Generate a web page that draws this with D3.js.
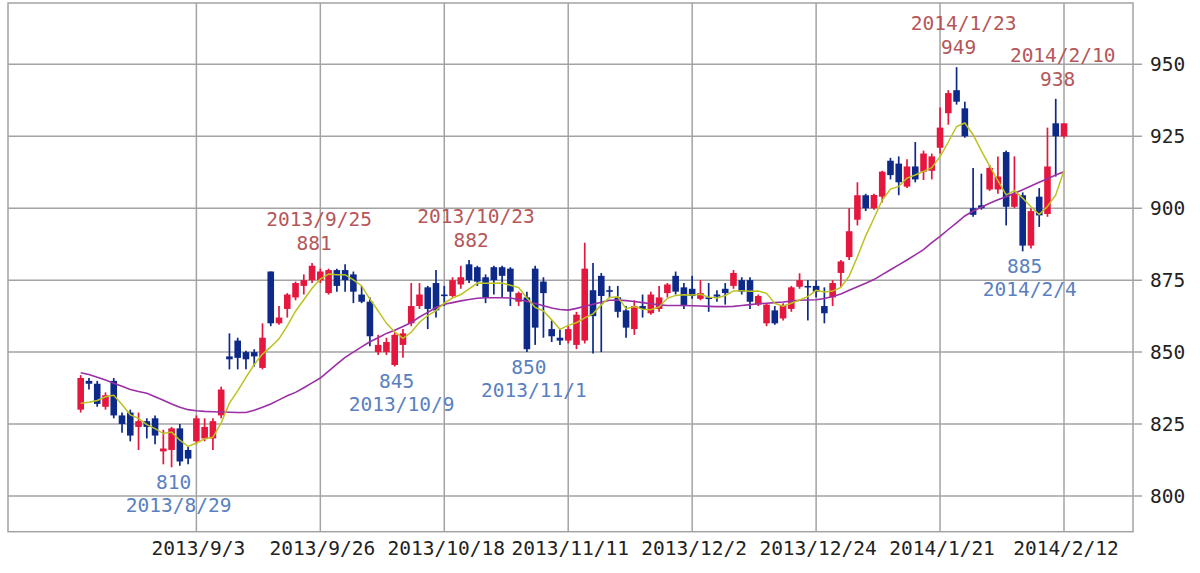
<!DOCTYPE html>
<html><head><meta charset="utf-8">
<script src="https://cdn.jsdelivr.net/npm/d3@7/dist/d3.min.js"></script>
<style>body{margin:0;background:#fff;overflow:hidden}</style>
</head><body>
<svg id="c" width="1200" height="573"></svg>
<script>
const dates = ["2013/8/14","2013/8/15","2013/8/16","2013/8/19","2013/8/20","2013/8/21","2013/8/22","2013/8/23","2013/8/26","2013/8/27","2013/8/28","2013/8/29","2013/8/30","2013/9/2","2013/9/3","2013/9/4","2013/9/5","2013/9/6","2013/9/9","2013/9/10","2013/9/11","2013/9/12","2013/9/13","2013/9/17","2013/9/18","2013/9/19","2013/9/20","2013/9/24","2013/9/25","2013/9/26","2013/9/27","2013/9/30","2013/10/1","2013/10/2","2013/10/3","2013/10/4","2013/10/7","2013/10/8","2013/10/9","2013/10/10","2013/10/11","2013/10/15","2013/10/16","2013/10/17","2013/10/18","2013/10/21","2013/10/22","2013/10/23","2013/10/24","2013/10/25","2013/10/28","2013/10/29","2013/10/30","2013/10/31","2013/11/1","2013/11/5","2013/11/6","2013/11/7","2013/11/8","2013/11/11","2013/11/12","2013/11/13","2013/11/14","2013/11/15","2013/11/18","2013/11/19","2013/11/20","2013/11/21","2013/11/22","2013/11/25","2013/11/26","2013/11/27","2013/11/28","2013/11/29","2013/12/2","2013/12/3","2013/12/4","2013/12/5","2013/12/6","2013/12/9","2013/12/10","2013/12/11","2013/12/12","2013/12/13","2013/12/16","2013/12/17","2013/12/18","2013/12/19","2013/12/20","2013/12/24","2013/12/25","2013/12/26","2013/12/27","2013/12/30","2014/1/6","2014/1/7","2014/1/8","2014/1/9","2014/1/10","2014/1/14","2014/1/15","2014/1/16","2014/1/17","2014/1/20","2014/1/21","2014/1/22","2014/1/23","2014/1/24","2014/1/27","2014/1/28","2014/1/29","2014/1/30","2014/1/31","2014/2/3","2014/2/4","2014/2/5","2014/2/6","2014/2/7","2014/2/10","2014/2/12"];

const opens = [830,840,839,831,840,828,829,824,826,827,815.5,816,823.5,816,819,820,820,828,848.5,854,850,850,844.5,878,860,865,869,873,875,875,870.5,878.5,878.5,877,870,867.5,850,850,845.5,852.5,860,866,872.5,874,870,869.5,873.5,880.5,879.5,876,879.5,879.5,879,867.5,869,879,874.5,858,855,854,852.5,854,871.5,876.5,871.5,869,864.5,858,866,863.5,865,870.5,876.5,872.5,872,868.5,869,870,872,873,875,875,866.5,860,864.5,861.7,865,872.7,873,873,866,869,877.5,883,896,904.5,900,904,916.5,915.5,907.5,914.5,912.7,913,921,933,941,934.7,900,901,906.5,906.5,919.5,900.5,904.5,887,904,898,929.5,925];
const highs = [842,841,840,836,841,829,830,829,827,828,823,824,825,817,828,827,827,838,856.5,855,850.5,851,860,878,866,870.5,874.5,877,881,879,879,879,880.5,878,873,869,856,855,857,858,874,874,873,878.5,873,876,880,882,880,877,880,880,879.5,871,871,880,876,861,858,859,864,888,881,877.5,873,873,866,868,870,871,873,874,878,874,876.5,875,874,871.5,874,878.5,876,876,870,867,866,867,873,877.4,875,875,872.5,875,882,900,909,905,905,913,917.5,918,917,923,920,919,935,941,949,937,914,912,915,918,920,918,905.5,900,907,928,938,929.5];
const lows = [829,837,831,830,827,822,819,816,820,818,811,810,810.5,811,818,819,816,827,844,844,844,845,844,859,859.5,862,868,870,874,874,870,871,871,867,867,852,849,849,845,848,859,865,858,862,866,869,872,874,873,867,870,869,866,866,850,852.5,855,853.5,852.5,853,851,853,849.5,850,869,862,855,856,862,863,864,869,870,865,868.5,868,864,867.5,866.5,872,870,865,866,859,859.5,861,864,872,861,869,860,866,872.7,882,894,899,899.5,902,910,904.5,907,909,909.8,910,919,929,936,924.5,897,899.5,906,905,894,900,885,886,893.5,897,911,924.5];
const closes = [841,839,832,835,828,825,821,826,824,821,816.5,823.5,812,813,827,824,826,837,847.5,848,847.5,848.5,855,860,862,870,874,875,880,878,878.5,873,875,871,867.5,855.5,852.5,853.5,856,856.5,866,870,865,864.5,869.5,875,876,875,874.5,869,875,876.5,871,870.5,851,858.5,870.5,855.5,854,858,863,879,862.5,869.5,871,864,858.5,866,865,870,869,873.5,871,866,869.5,870.5,868.5,869.3,870.5,877.5,871,867.5,869.5,866.5,860,866.4,872.5,875,872.5,871,863.5,874,881.5,892,904.5,900,904.6,912.7,911.5,909,914.5,910,919,918,928,940,937,925,897.7,900,914,911,900.5,905,887,899,897.5,914.5,925,929.5];

// short moving average: first points, the rest averaged from closes
const ma5Lead = [832.2,832.6,833.2,834.5];
const ma25 = [842.8,842.2,841.3,840.3,839.2,838.1,837.0,836.3,835.7,834.5,833.3,832.0,830.8,830.0,829.6,829.4,829.3,829.2,829.1,829.0,829.0,829.8,830.8,832.0,833.4,834.8,836.0,837.6,839.3,841.0,843.4,845.8,848.2,850.0,851.8,853.6,855.0,856.5,857.6,858.9,860.3,862.2,863.8,865.5,866.6,867.2,867.8,868.3,868.7,868.9,868.9,868.9,868.8,868.3,867.6,866.9,866.1,865.3,864.8,864.6,865.2,865.9,866.6,867.3,868.0,868.1,867.9,867.6,867.2,866.8,866.4,866.2,866.2,866.2,866.1,866.0,865.9,865.8,865.8,865.9,866.2,866.5,866.8,867.0,867.2,867.4,867.7,868.0,868.1,868.2,868.6,869.3,870.2,871.5,872.7,873.9,875.2,876.9,878.6,880.3,882.0,883.8,885.6,888.0,890.2,892.6,894.9,897.3,899.0,900.3,901.7,902.9,904.0,905.2,906.4,907.7,909.0,910.2,911.5,912.7];

const xTickDates = ["2013/9/3","2013/9/26","2013/10/18","2013/11/11","2013/12/2","2013/12/24","2014/1/21","2014/2/12"];
const yTicks = [800,825,850,875,900,925,950];
const highMarks = ["2013/9/25","2013/10/23","2014/1/23","2014/2/10"];
const lowMarks = ["2013/8/29","2013/10/9","2013/11/1","2014/2/4"];

const ma5 = closes.map((c,i)=> i<4 ? ma5Lead[i] : d3.mean(closes.slice(i-4,i+1)));

const plot = {left:8,right:1133,top:3,bottom:531.7};
const x = d3.scaleLinear().domain([0,dates.length-1]).range([80.7,1064]);
const y = d3.scaleLinear().domain([800,950]).range([496,64.3]);

const svg = d3.select("#c");
const FONT = "'DejaVu Sans Mono', monospace";
const gridColor = "#a3a3a3";
const upColor = "#e5173f", downColor = "#0e2a88";

// grid
const g = svg.append("g");
g.selectAll("line.h").data(yTicks).join("line")
  .attr("x1",plot.left).attr("x2",plot.right+9)
  .attr("y1",d=>y(d)).attr("y2",d=>y(d))
  .attr("stroke",gridColor).attr("stroke-width",1.5);
g.selectAll("line.v").data(xTickDates).join("line")
  .attr("x1",d=>x(dates.indexOf(d))).attr("x2",d=>x(dates.indexOf(d)))
  .attr("y1",plot.top).attr("y2",plot.bottom)
  .attr("stroke",gridColor).attr("stroke-width",1.5);
g.append("rect").attr("x",plot.left).attr("y",plot.top)
  .attr("width",plot.right-plot.left).attr("height",plot.bottom-plot.top)
  .attr("fill","none").attr("stroke",gridColor).attr("stroke-width",1.5);

// axis labels
svg.selectAll("text.yl").data(yTicks).join("text")
  .attr("x",plot.right+17).attr("y",d=>y(d)+7)
  .attr("font-family",FONT).attr("font-size",19.5).attr("fill","#222")
  .text(d=>d);
svg.selectAll("text.xl").data(xTickDates).join("text")
  .attr("x",d=>x(dates.indexOf(d))+2).attr("y",555)
  .attr("text-anchor","middle")
  .attr("font-family",FONT).attr("font-size",19.5).attr("fill","#222")
  .text(d=>d);

// candles
const idx = d3.range(dates.length);
const cg = svg.append("g");
cg.selectAll("line.w").data(idx).join("line")
  .attr("x1",i=>x(i)).attr("x2",i=>x(i))
  .attr("y1",i=>y(highs[i])).attr("y2",i=>y(lows[i]))
  .attr("stroke",i=>closes[i]>=opens[i]?upColor:downColor)
  .attr("stroke-width",1.7);
cg.selectAll("rect.b").data(idx).join("rect")
  .attr("x",i=>x(i)-3.3).attr("width",6.6)
  .attr("y",i=>y(Math.max(opens[i],closes[i])))
  .attr("height",i=>Math.max(1.6,Math.abs(y(opens[i])-y(closes[i]))))
  .attr("fill",i=>closes[i]>=opens[i]?upColor:downColor);

// moving averages
const line = d3.line().x((d,i)=>x(i)).y(d=>y(d));
svg.append("path").datum(ma25).attr("d",line)
  .attr("fill","none").attr("stroke","#9a2fa6").attr("stroke-width",1.6);
svg.append("path").datum(ma5).attr("d",line)
  .attr("fill","none").attr("stroke","#bcc21e").attr("stroke-width",1.5);

// high / low annotations
const hiColor = "#b5575a", loColor = "#5a80c0";
highMarks.forEach(d=>{
  const i = dates.indexOf(d), yy = y(highs[i]);
  svg.append("text").attr("x",x(i)+7).attr("y",yy-37).attr("text-anchor","middle")
    .attr("font-family",FONT).attr("font-size",19.5).attr("fill",hiColor).text(d);
  svg.append("text").attr("x",x(i)+2).attr("y",yy-13).attr("text-anchor","middle")
    .attr("font-family",FONT).attr("font-size",19.5).attr("fill",hiColor).text(Math.round(highs[i]));
});
lowMarks.forEach(d=>{
  const i = dates.indexOf(d), yy = y(lows[i]);
  svg.append("text").attr("x",x(i)+2).attr("y",yy+22).attr("text-anchor","middle")
    .attr("font-family",FONT).attr("font-size",19.5).attr("fill",loColor).text(Math.round(lows[i]));
  svg.append("text").attr("x",x(i)+7).attr("y",yy+45).attr("text-anchor","middle")
    .attr("font-family",FONT).attr("font-size",19.5).attr("fill",loColor).text(d);
});
</script>
</body></html>
